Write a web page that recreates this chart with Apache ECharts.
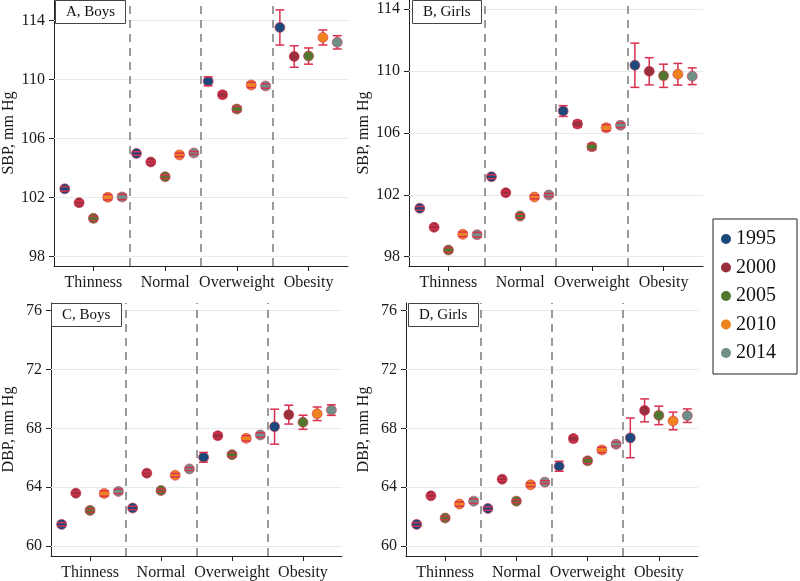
<!DOCTYPE html>
<html>
<head>
<meta charset="utf-8">
<script src="https://cdn.jsdelivr.net/npm/echarts@6/dist/echarts.min.js"></script>
<style>
html,body{margin:0;padding:0;background:#fff;}
#chart{width:800px;height:581px;}
</style>
</head>
<body>
<div id="chart"></div>
<script>
const categories = ['Thinness', 'Normal', 'Overweight', 'Obesity'];
const years = ['1995', '2000', '2005', '2010', '2014'];
const panelTitles = ['A, Boys', 'B, Girls', 'C, Boys', 'D, Girls'];
const sbpTicks = [98, 102, 106, 110, 114];
const dbpTicks = [60, 64, 68, 72, 76];

// means: rows = years, columns = categories
const sbpBoysMean = [
  [102.6, 105.0, 109.89, 113.54],
  [101.66, 104.42, 108.98, 111.57],
  [100.6, 103.42, 108.01, 111.6],
  [102.03, 104.9, 109.64, 112.86],
  [102.05, 105.03, 109.57, 112.53]
];
const sbpBoysHalfCI = [
  [0.15, 0.12, 0.3, 1.19],
  [0.12, 0.1, 0.2, 0.73],
  [0.15, 0.12, 0.18, 0.55],
  [0.18, 0.12, 0.18, 0.51],
  [0.18, 0.1, 0.15, 0.45]
];
const sbpGirlsMean = [
  [101.13, 103.17, 107.42, 110.38],
  [99.9, 102.14, 106.58, 109.99],
  [98.43, 100.63, 105.11, 109.7],
  [99.45, 101.86, 106.34, 109.8],
  [99.42, 101.99, 106.5, 109.67]
];
const sbpGirlsHalfCI = [
  [0.12, 0.12, 0.35, 1.43],
  [0.12, 0.12, 0.22, 0.88],
  [0.15, 0.12, 0.2, 0.75],
  [0.15, 0.12, 0.2, 0.7],
  [0.15, 0.1, 0.15, 0.54]
];
const dbpBoysMean = [
  [61.47, 62.58, 66.03, 68.11],
  [63.59, 64.95, 67.5, 68.93],
  [62.42, 63.77, 66.21, 68.41],
  [63.57, 64.81, 67.32, 68.99],
  [63.71, 65.24, 67.55, 69.24]
];
const dbpBoysHalfCI = [
  [0.12, 0.12, 0.33, 1.19],
  [0.12, 0.1, 0.18, 0.64],
  [0.12, 0.1, 0.15, 0.48],
  [0.18, 0.12, 0.18, 0.46],
  [0.15, 0.1, 0.15, 0.36]
];
const dbpGirlsMean = [
  [61.47, 62.55, 65.42, 67.35],
  [63.41, 64.54, 67.3, 69.22],
  [61.9, 63.05, 65.79, 68.88],
  [62.85, 64.16, 66.53, 68.5],
  [63.05, 64.34, 66.92, 68.86]
];
const dbpGirlsHalfCI = [
  [0.12, 0.12, 0.34, 1.35],
  [0.12, 0.1, 0.2, 0.78],
  [0.12, 0.1, 0.18, 0.63],
  [0.15, 0.12, 0.18, 0.6],
  [0.15, 0.1, 0.15, 0.46]
];

// ---------- styling / layout ----------
const yearColors = ['#1b4a7a', '#9a2f3e', '#52772e', '#ee8420', '#6f9088'];
const errColor = '#d9304f';
const yearOffsets = [-0.4, -0.2, 0, 0.2, 0.4];
const FONT = '"Liberation Serif", "Times New Roman", serif';

const panels = [
  {mean: sbpBoysMean, half: sbpBoysHalfCI, ticks: sbpTicks, yName: 'SBP, mm Hg',
   grid: {left: 52, top: 0, width: 296, height: 266}, yMin: 97.37, yMax: 115.4, nameGap: 37,
   title: {left: 55, top: 0}},
  {mean: sbpGirlsMean, half: sbpGirlsHalfCI, ticks: sbpTicks, yName: 'SBP, mm Hg',
   grid: {left: 409, top: 0, width: 294, height: 266}, yMin: 97.4, yMax: 114.6, nameGap: 37,
   title: {left: 412, top: 0}},
  {mean: dbpBoysMean, half: dbpBoysHalfCI, ticks: dbpTicks, yName: 'DBP, mm Hg',
   grid: {left: 49, top: 303, width: 293, height: 254}, yMin: 59.32, yMax: 76.52, nameGap: 34,
   title: {left: 51, top: 303}},
  {mean: dbpGirlsMean, half: dbpGirlsHalfCI, ticks: dbpTicks, yName: 'DBP, mm Hg',
   grid: {left: 406, top: 303, width: 292, height: 254}, yMin: 59.32, yMax: 76.52, nameGap: 34,
   title: {left: 408, top: 303}}
];

const grids = [], xAxes = [], yAxes = [], series = [], titles = [];

panels.forEach((p, pi) => {
  grids.push(Object.assign({containLabel: false}, p.grid));
  xAxes.push({
    type: 'value', gridIndex: pi, min: 0.45, max: 4.55,
    splitLine: {show: false},
    axisLine: {show: true, onZero: false, lineStyle: {color: '#222', width: 1}},
    axisTick: {show: true, length: 5, customValues: [1, 2, 3, 4], lineStyle: {color: '#222'}},
    axisLabel: {show: true, customValues: [1, 2, 3, 4], margin: 9,
      formatter: v => categories[Math.round(v) - 1] || '',
      fontFamily: FONT, fontSize: 16, color: '#1a1a1a'}
  });
  yAxes.push({
    type: 'value', gridIndex: pi, min: p.yMin, max: p.yMax,
    name: p.yName, nameLocation: 'middle', nameGap: p.nameGap,
    nameTextStyle: {fontFamily: FONT, fontSize: 16, color: '#1a1a1a'},
    splitLine: {show: false},
    axisLine: {show: true, onZero: false, lineStyle: {color: '#222', width: 1}},
    axisTick: {show: true, length: 5, customValues: p.ticks, lineStyle: {color: '#222'}},
    axisLabel: {show: true, customValues: p.ticks, margin: 9,
      fontFamily: FONT, fontSize: 16, color: '#1a1a1a'}
  });
  titles.push({
    text: panelTitles[pi], left: p.title.left, top: p.title.top,
    textStyle: {fontFamily: FONT, fontSize: 15, fontWeight: 'normal', color: '#111'},
    padding: [5, 11, 4, 11], borderColor: '#444', borderWidth: 1, backgroundColor: '#fff'
  });

  // error bar data
  const ciData = [];
  years.forEach((yr, yi) => {
    categories.forEach((c, ci) => {
      const m = p.mean[yi][ci], h = p.half[yi][ci];
      ciData.push([ci + 1 + yearOffsets[yi], m - h, m + h]);
    });
  });

  // helper series for grid lines and dashed separators
  series.push({
    type: 'scatter', name: '_guides', xAxisIndex: pi, yAxisIndex: pi, data: [], silent: true,
    markLine: {
      silent: true, symbol: ['none', 'none'], z: 1, animation: false,
      label: {show: false},
      data: p.ticks.map(t => ({yAxis: t, lineStyle: {color: '#e4eaed', width: 1, type: 'solid'}}))
        .concat([1.5, 2.5, 3.5].map(v => ({xAxis: v, lineStyle: {color: '#7a7a7a', width: 1.5, type: [8, 6]}})))
    }
  });

  // vertical CI lines (below markers)
  series.push({
    type: 'custom', name: '_ci', xAxisIndex: pi, yAxisIndex: pi, z: 2, silent: true,
    encode: {x: 0, y: [1, 2]},
    data: ciData,
    renderItem: (params, api) => {
      const x = api.value(0);
      const a = api.coord([x, api.value(1)]), b = api.coord([x, api.value(2)]);
      return {type: 'line', shape: {x1: a[0], y1: a[1], x2: b[0], y2: b[1]},
        style: {stroke: errColor, lineWidth: 1.5}};
    }
  });

  // markers
  years.forEach((yr, yi) => {
    series.push({
      type: 'scatter', name: yr, xAxisIndex: pi, yAxisIndex: pi, z: 3,
      symbol: 'circle', symbolSize: 10,
      itemStyle: {color: yearColors[yi], opacity: 1, borderColor: 'rgba(217,48,79,0.6)', borderWidth: 1},
      data: categories.map((c, ci) => [ci + 1 + yearOffsets[yi], p.mean[yi][ci]])
    });
  });

  // caps (above markers)
  series.push({
    type: 'custom', name: '_caps', xAxisIndex: pi, yAxisIndex: pi, z: 4, silent: true,
    encode: {x: 0, y: [1, 2]},
    data: ciData,
    renderItem: (params, api) => {
      const x = api.value(0);
      const a = api.coord([x, api.value(1)]), b = api.coord([x, api.value(2)]);
      const w = 4.5;
      return {type: 'group', children: [
        {type: 'line', shape: {x1: a[0] - w, y1: a[1], x2: a[0] + w, y2: a[1]}, style: {stroke: errColor, lineWidth: 1.5}},
        {type: 'line', shape: {x1: b[0] - w, y1: b[1], x2: b[0] + w, y2: b[1]}, style: {stroke: errColor, lineWidth: 1.5}}
      ]};
    }
  });
});

const chart = echarts.init(document.getElementById('chart'), null, {renderer: 'canvas'});
chart.setOption({
  backgroundColor: '#fff',
  animation: false,
  title: titles,
  grid: grids,
  xAxis: xAxes,
  yAxis: yAxes,
  legend: {
    data: years, orient: 'vertical', left: 713, top: 219,
    padding: [10, 21, 11, 8], itemWidth: 10, itemHeight: 10, itemGap: 8.5,
    icon: 'circle', itemTextGap: 11,
    itemStyle: {borderWidth: 0},
    borderColor: '#222', borderWidth: 1, backgroundColor: '#fff',
    textStyle: {fontFamily: FONT, fontSize: 20, color: '#111'}
  },
  series: series
});
</script>
</body>
</html>
